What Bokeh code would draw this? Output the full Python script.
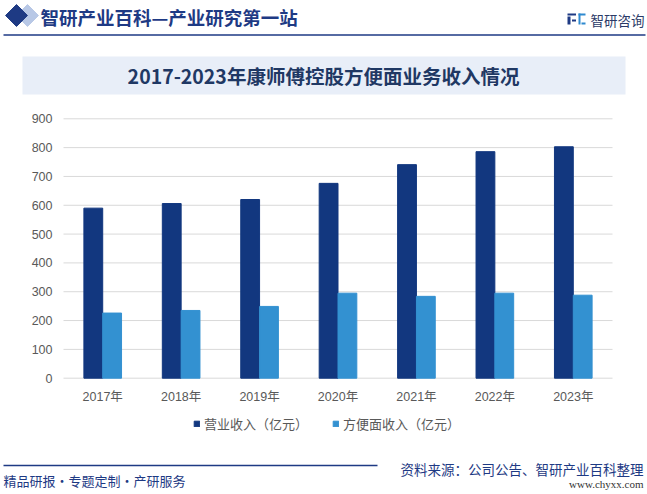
import math
from bokeh.plotting import figure
from bokeh.models import ColumnDataSource, Range1d, Legend, LegendItem
from bokeh.core.properties import value
from bokeh.transform import dodge
from bokeh.embed import file_html
from bokeh.resources import INLINE

# ---------------- data ----------------
years = ["2017年", "2018年", "2019年", "2020年", "2021年", "2022年", "2023年"]
revenue = [590, 606, 620, 676, 741, 786, 803]          # 营业收入（亿元）
noodle_revenue = [226, 235, 249, 295, 284, 295, 288]   # 方便面收入（亿元）
y_ticks = [0, 100, 200, 300, 400, 500, 600, 700, 800, 900]
series_names = ["营业收入（亿元）", "方便面收入（亿元）"]

header_text = "智研产业百科—产业研究第一站"
chart_title = "2017-2023年康师傅控股方便面业务收入情况"
logo_text = "智研咨询"
footer_left = "精品研报·专题定制·产研服务"
footer_right = "资料来源：公司公告、智研产业百科整理"
footer_url = "www.chyxx.com"

# ---------------- style / layout (pixels) ----------------
W, H = 647, 494
NAVY = "#1E3A84"
DARK = "#12377F"
LIGHT = "#3391D1"
GRID = "#D9D9D9"
GRAY = "#595959"
CJK = "Noto Sans CJK SC"
MIX = "Liberation Sans, Noto Sans CJK SC"

# chart area inside the canvas
PL, PR = 63.0, 612.0     # left / right pixel of plot area
PT, PB = 118.3, 377.7    # top / bottom pixel of plot area
YMAX = y_ticks[-1]
NCAT = len(years)

vpp = YMAX / (PB - PT)
val_range = Range1d(start=-(H - PB) * vpp, end=PB * vpp)
cpp = NCAT / (PR - PL)
cat_range = Range1d(start=-PL * cpp, end=NCAT + (W - PR) * cpp)

p = figure(width=W, height=H, x_range=Range1d(0, W), y_range=Range1d(H, 0),
           x_axis_type=None, y_axis_type=None, min_border=0,
           toolbar_location=None, output_backend="svg")
p.extra_x_ranges = {"cat": cat_range}
p.extra_y_ranges = {"val": val_range}
p.grid.visible = False
p.outline_line_color = None
p.background_fill_color = "white"
p.border_fill_color = "white"

# ---------------- header ----------------
p.scatter([27], [15], marker="square", size=15.5, angle=math.pi / 4, color="#B8C8E6")
p.scatter([16], [15], marker="square", size=15.5, angle=math.pi / 4, color=NAVY)
p.text(x=[40], y=[16], text=[header_text], text_font=value(CJK), text_font_size="18.5px",
       text_color=NAVY, text_baseline="middle", text_align="left", text_font_style="bold")
p.segment(x0=[3], y0=[34.5], x1=[645], y1=[34.5], line_color=NAVY, line_width=1.3)

# logo icon + text
p.quad(left=[567, 567, 571.5], right=[575.5, 570, 575.5], top=[13, 16, 19],
       bottom=[15, 24, 21], color=NAVY, line_color=None)
p.quad(left=[578, 578, 581], right=[585, 580, 585], top=[13, 13, 22],
       bottom=[15, 24, 24], color="#2F8AD0", line_color=None)
p.text(x=[590], y=[19], text=[logo_text], text_font=value(CJK), text_font_size="13.5px",
       text_color="#2B3A67", text_baseline="middle", text_align="left")

# title box
p.quad(left=[22], right=[625], top=[56], bottom=[94], color="#E8EEF8", line_color=None)
p.text(x=[323], y=[75], text=[chart_title], text_font=value(CJK), text_font_size="19.5px",
       text_color="#1F3864", text_baseline="middle", text_align="center", text_font_style="bold")

# ---------------- chart ----------------
src = ColumnDataSource(dict(x=[i + 0.5 for i in range(NCAT)], year=years,
                            revenue=revenue, noodle=noodle_revenue))

# gridlines
p.segment(x0=[0] * len(y_ticks), x1=[NCAT] * len(y_ticks), y0=y_ticks, y1=y_ticks,
          line_color=GRID, line_width=1, x_range_name="cat", y_range_name="val")

r1 = p.vbar(x=dodge("x", -0.12), top="revenue", bottom=0, width=0.24, source=src,
            color=DARK, x_range_name="cat", y_range_name="val")
r2 = p.vbar(x=dodge("x", 0.12), top="noodle", bottom=0, width=0.24, source=src,
            color=LIGHT, x_range_name="cat", y_range_name="val")

# y tick labels
p.text(x=[0] * len(y_ticks), y=y_ticks, text=[str(t) for t in y_ticks], x_offset=-11,
       text_font=value(MIX), text_font_size="12.5px", text_color=GRAY,
       text_align="right", text_baseline="middle", x_range_name="cat", y_range_name="val")
# x tick labels
p.text(x="x", y=0, text="year", source=src, y_offset=18.3,
       text_font=value(MIX), text_font_size="12.5px", text_color=GRAY,
       text_align="center", text_baseline="middle", x_range_name="cat", y_range_name="val")

legend = Legend(items=[LegendItem(label=series_names[0], renderers=[r1]),
                       LegendItem(label=series_names[1], renderers=[r2])],
                orientation="horizontal", location=(193, 61),
                label_text_font=CJK, label_text_font_size="13px",
                label_text_color=GRAY, glyph_width=7, glyph_height=7,
                label_standoff=4, spacing=24, padding=0, margin=0,
                border_line_color=None, background_fill_alpha=0)
p.add_layout(legend)

# ---------------- footer ----------------
p.segment(x0=[3], y0=[465], x1=[377], y1=[465], line_color=NAVY, line_width=1.3)
p.text(x=[3], y=[480], text=[footer_left], text_font=value(CJK), text_font_size="13px",
       text_color=NAVY, text_baseline="middle", text_align="left")
p.text(x=[643], y=[468], text=[footer_right], text_font=value(CJK), text_font_size="13.5px",
       text_color=NAVY, text_baseline="middle", text_align="right")
p.text(x=[643], y=[483], text=[footer_url], text_font=value("Liberation Serif"),
       text_font_size="11px", text_color="#333333", text_baseline="middle", text_align="right")

open("out.html", "w").write(file_html(p, INLINE))
